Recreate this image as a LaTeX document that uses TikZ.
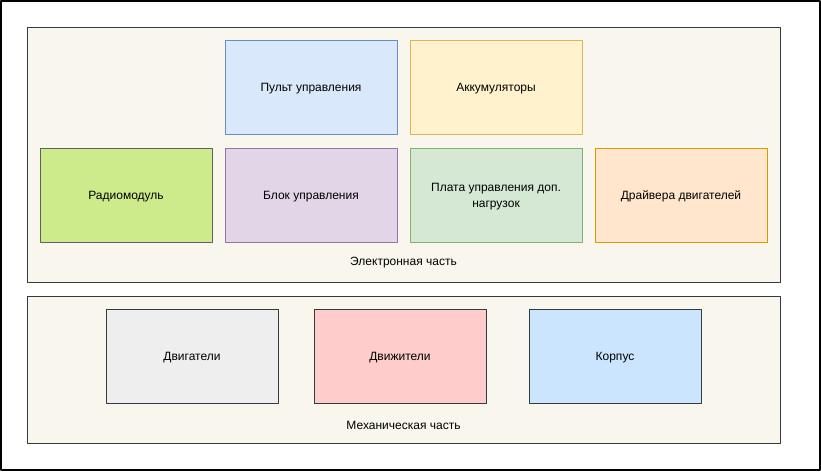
\documentclass[tikz,border=0pt]{standalone}
\usepackage{fontspec}
\setmainfont{Liberation Sans}
\usepackage{tikz}

\definecolor{partfill}{HTML}{F9F7ED}
\definecolor{darkline}{HTML}{36393D}

\begin{document}
\begin{tikzpicture}[line cap=round,line join=round,x=1pt,y=-1pt,
    font=\fontsize{12}{16}\selectfont,
    part/.style={draw=darkline, fill=partfill, line width=1pt, minimum width=753pt},
    block/.style={draw, line width=1pt, minimum width=172pt, minimum height=94pt, align=center, inner sep=0pt, text depth=0pt}]
                    \useasboundingbox (0,0) rectangle (821,471);
                    \draw [line width=2pt] (1,1) rectangle (819.5,469.5);

                    % electronic part
                    \node[part, minimum height=255pt] (elec) at (403.5,154.5) {};
                    \node (elecl) at (403.5,263) {Электронная часть};

                    \node[block, fill={rgb,255:red,218;green,232;blue,252}, draw={rgb,255:red,108;green,142;blue,191}] (pult) at (311,87) {Пульт управления};
                    \node[block, fill={rgb,255:red,255;green,242;blue,204}, draw={rgb,255:red,214;green,182;blue,86}] (akk) at (496,87) {Аккумуляторы};
                    \node[block, fill={rgb,255:red,205;green,235;blue,139}, draw=darkline!80] (radio) at (126,195) {Радиомодуль};
                    \node[block, fill={rgb,255:red,225;green,213;blue,231}, draw={rgb,255:red,150;green,115;blue,166}] (ctrl) at (311,195) {Блок управления};
                    \node[block, fill={rgb,255:red,213;green,232;blue,212}, draw={rgb,255:red,130;green,179;blue,102}] (plata) at (496,195) {Плата управления доп.\\нагрузок};
                    \node[block, fill={rgb,255:red,255;green,230;blue,204}, draw={rgb,255:red,215;green,155;blue,0}] (drv) at (681,195) {Драйвера двигателей};

                    % mechanical part
                    \node[part, minimum height=147pt] (mech) at (403.5,369.5) {};
                    \node (mechl) at (403.5,425) {Механическая часть};

                    \node[block, fill={rgb,255:red,238;green,238;blue,238}, draw=darkline] (motor) at (192,356) {Двигатели};
                    \node[block, fill={rgb,255:red,255;green,204;blue,204}, draw=darkline] (prop) at (400,356) {Движители};
                    \node[block, fill={rgb,255:red,204;green,229;blue,255}, draw=darkline] (hull) at (615,356) {Корпус};
                \end{tikzpicture}
\end{document}
